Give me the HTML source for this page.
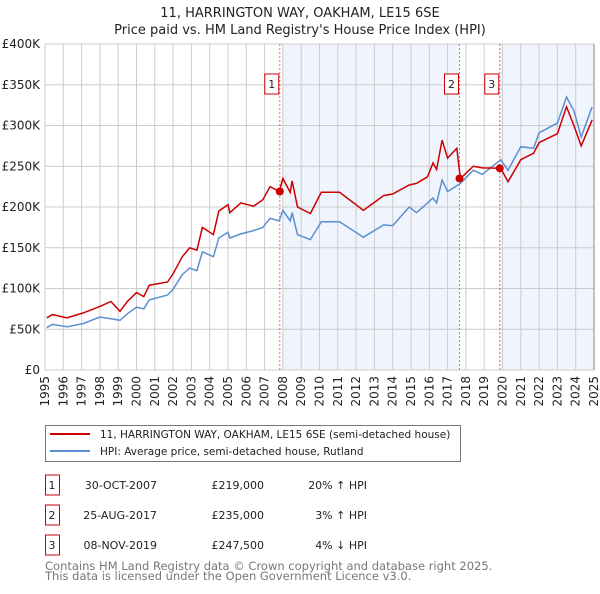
<!DOCTYPE html>
<html><head><meta charset="utf-8"><style>
body{margin:0;background:#fff;width:600px;height:590px;overflow:hidden;font-family:"DejaVu Sans","Liberation Sans",sans-serif;}
svg text{font-family:"DejaVu Sans","Liberation Sans",sans-serif;}
</style></head><body>
<svg id="chart" width="600" height="590" xmlns="http://www.w3.org/2000/svg">
<text x="300" y="17" text-anchor="middle" font-size="13" fill="#222">11, HARRINGTON WAY, OAKHAM, LE15 6SE</text>
<text x="300" y="34" text-anchor="middle" font-size="13" fill="#222">Price paid vs. HM Land Registry's House Price Index (HPI)</text>
<g id="plot"></g>
<g>
<rect x="45.5" y="425.5" width="415" height="36" fill="#fff" stroke="#777"/>
<line x1="50" y1="434" x2="90" y2="434" stroke="#cc0000" stroke-width="2"/>
<text x="100" y="438" font-size="10.5" fill="#222">11, HARRINGTON WAY, OAKHAM, LE15 6SE (semi-detached house)</text>
<line x1="50" y1="451" x2="90" y2="451" stroke="#5b8fd1" stroke-width="2"/>
<text x="100" y="455" font-size="10.5" fill="#222">HPI: Average price, semi-detached house, Rutland</text>
</g>
<g id="table" font-size="11" fill="#222"></g>
<text x="45" y="570" font-size="11.5" fill="#777">Contains HM Land Registry data © Crown copyright and database right 2025.</text>
<text x="45" y="580" font-size="11.5" fill="#777">This data is licensed under the Open Government Licence v3.0.</text>
</svg>
<script>
const hpiYears=[1995.1,1995.4,1996.2,1997.1,1998.0,1998.6,1999.1,1999.5,2000.0,2000.4,2000.7,2001.7,2002.0,2002.5,2002.9,2003.3,2003.6,2004.2,2004.5,2005.0,2005.1,2005.7,2006.4,2006.9,2007.3,2007.8,2008.0,2008.4,2008.5,2008.8,2009.5,2010.1,2011.1,2012.4,2013.5,2014.0,2014.9,2015.3,2015.9,2016.2,2016.4,2016.7,2017.0,2017.5,2017.7,2018.4,2018.9,2019.9,2020.3,2021.0,2021.7,2022.0,2023.0,2023.5,2023.9,2024.3,2024.9];
const hpiValues=[52,56,53,57,65,63,61,69,77,75,86,92,99,117,125,122,145,139,162,169,162,167,171,175,186,183,196,183,193,166,160,182,182,163,178,177,200,193,205,211,205,233,219,226,229,245,240,258,245,274,272,291,303,335,318,286,323];
const ppValues=[64,68,64,70,78,84,72,84,95,90,104,108,118,139,150,147,175,166,195,203,193,205,201,209,225,219,235,218,232,200,192,218,218,196,214,216,227,229,237,254,246,282,260,272,235,250,248,247.5,231,258,266,279,290,323,300,275,307];
const saleYears=[2007.83,2017.65,2019.85];
const salePrices=[219,235,247.5];
const saleLabels=["1","2","3"];
const saleDates=["30-OCT-2007","25-AUG-2017","08-NOV-2019"];
const salePriceText=["£219,000","£235,000","£247,500"];
const saleDiffs=["20% ↑ HPI","3% ↑ HPI","4% ↓ HPI"];
const yTicks=[0,50,100,150,200,250,300,350,400];
const yTickLabels=["£0","£50K","£100K","£150K","£200K","£250K","£300K","£350K","£400K"];
const xTicks=[];for(let y=1995;y<=2025;y++)xTicks.push(y);

const X0=45,X1=594,Y0=370,Y1=44;
const xs=y=>X0+(y-1995)*(X1-X0)/30;
const ys=v=>Y0-v*(Y0-Y1)/400;
const NS="http://www.w3.org/2000/svg";
const plot=document.getElementById('plot');
function mk(tag,attrs,parent){const e=document.createElementNS(NS,tag);for(const k in attrs)e.setAttribute(k,attrs[k]);(parent||plot).appendChild(e);return e;}

let bg=mk('rect',{x:X0,y:Y1,width:X1-X0,height:Y0-Y1,fill:'#fff'});


let sh1=mk('rect',{x:xs(2008.0),y:Y1,width:xs(saleYears[1])-xs(2008.0),height:Y0-Y1,fill:'#f0f4fd'});


let sh2=mk('rect',{x:xs(saleYears[2]),y:Y1,width:X1-xs(saleYears[2]),height:Y0-Y1,fill:'#f0f4fd'});



xTicks.forEach(y=>{
  let l=mk('line',{x1:xs(y),x2:xs(y),y1:Y1,y2:Y0,stroke:'#ccc','stroke-width':1});
  
  
  let t=mk('text',{x:0,y:0,'font-size':12,fill:'#222','text-anchor':'end',transform:`translate(${xs(y)+4},${Y0+6}) rotate(-90)`});
  t.textContent=y;
  
  
});
yTicks.forEach((v,i)=>{
  let l=mk('line',{x1:X0,x2:X1,y1:ys(v),y2:ys(v),stroke:'#ccc','stroke-width':1});
  
  
  let t=mk('text',{x:40,y:ys(v)+4,'font-size':12,fill:'#222','text-anchor':'end'});
  t.textContent=yTickLabels[i];
  
  
});
let ax=mk('line',{x1:X1,x2:X1,y1:Y1,y2:Y0,stroke:'#888'});



saleYears.forEach((y,i)=>{
  let l=mk('line',{x1:xs(y),x2:xs(y),y1:Y1,y2:Y0,stroke:'#e66','stroke-width':1,'stroke-dasharray':'2,2'});
  
  
  let r=mk('rect',{x:xs(y)-15,y:74,width:14,height:20,fill:'#fff',stroke:'#c00'});
  
  
  let t=mk('text',{x:xs(y)-8,y:88,'font-size':11,'text-anchor':'middle',fill:'#222'});
  t.textContent=saleLabels[i];
  
  
});

const line=(vals)=>hpiYears.map((y,i)=>`${i?'L':'M'}${xs(y).toFixed(1)},${ys(vals[i]).toFixed(1)}`).join('');
let hp=mk('path',{d:line(hpiValues),fill:'none',stroke:'#5b8fd1','stroke-width':1.5});


let pp=mk('path',{d:line(ppValues),fill:'none',stroke:'#cc0000','stroke-width':1.5});


saleYears.forEach((y,i)=>{
  let c=mk('circle',{cx:xs(y),cy:ys(salePrices[i]),r:4,fill:'#cc0000'});
  
  
});

const tb=document.getElementById('table');
saleYears.forEach((y,i)=>{
  const cy=485+i*30;
  let r=mk('rect',{x:45.5,y:cy-10,width:14,height:20,fill:'#fff',stroke:'#c00'},tb);
  
  
  const cells=[[52,'middle',saleLabels[i]],[157,'end',saleDates[i]],[264,'end',salePriceText[i]],[367,'end',saleDiffs[i]]];
  cells.forEach(c=>{
    let t=mk('text',{x:c[0],y:cy+4,'text-anchor':c[1]},tb);
    t.textContent=c[2];
    
    
  });
});
</script>
</body></html>
